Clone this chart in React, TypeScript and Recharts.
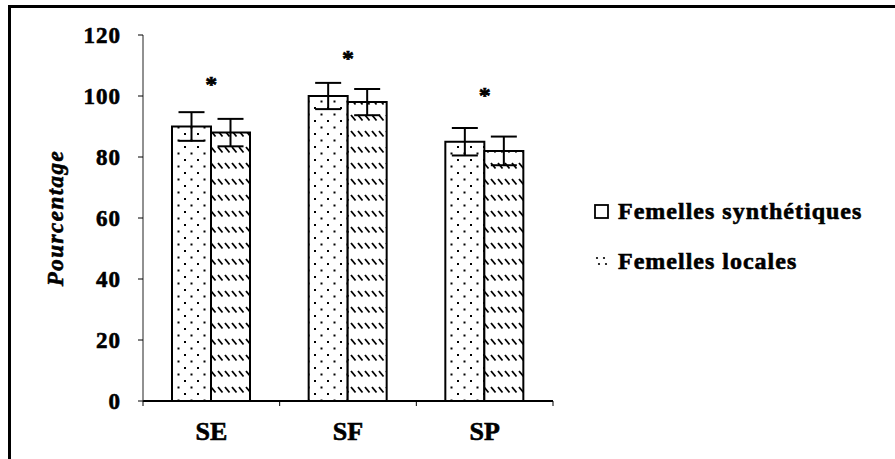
import React from 'react';
import {
  BarChart,
  Bar,
  XAxis,
  YAxis,
  ErrorBar,
  ReferenceDot,
} from 'recharts';

const categories = ['SE', 'SF', 'SP'];
const synthetiques = [90, 100, 85];
const locales = [88, 98, 82];
const synthErr = [4.7, 4.3, 4.5];
const localErr = [4.5, 4.3, 4.7];
const starLevel = [106, 114.5, 102.5];
const yTicks = [0, 20, 40, 60, 80, 100, 120];

const seriesNames = ['Femelles synthétiques', 'Femelles locales'];

const data = categories.map((c, i) => ({
  cat: c,
  synth: synthetiques[i],
  local: locales[i],
  synthErr: synthErr[i],
  localErr: localErr[i],
}));

const FONT = "'Liberation Serif', 'Times New Roman', serif";
// heavy, slightly smeared type like the scanned figure
const bold = { fontFamily: FONT, fontWeight: 'bold' as const, stroke: '#000', strokeWidth: 0.6 };

function XTick(props: any) {
  const { x, y, payload, index } = props;
  const half = payload.offset || 0;
  return (
    <g>
      {index === 0 && <line x1={x - half} x2={x - half} y1={y} y2={y + 5} stroke="#000" strokeWidth={1} />}
      <line x1={x + half} x2={x + half} y1={y} y2={y + 5} stroke="#000" strokeWidth={1} />
      <text x={x} y={y + 39} textAnchor="middle" style={{ ...bold, fontSize: 26 }} fill="#000">
        {payload.value}
      </text>
    </g>
  );
}

function YLabel(props: any) {
  const vb = props.viewBox;
  const cy = vb.y + vb.height / 2;
  return (
    <text
      transform={`translate(63, ${cy}) rotate(-90)`}
      textAnchor="middle"
      style={{ ...bold, fontStyle: 'italic', fontSize: 23, letterSpacing: 1.5 }}
      fill="#000"
    >
      Pourcentage
    </text>
  );
}

function LegendBox() {
  return (
    <svg width={300} height={90} style={{ position: 'absolute', left: 590, top: 195 }}>
      <rect x={5} y={10} width={13} height={13} fill="#fff" stroke="#000" strokeWidth={1.8} />
      <text x={28} y={24} style={{ ...bold, fontSize: 24, letterSpacing: 1 }} fill="#000">
        {seriesNames[0]}
      </text>
      <circle cx={7} cy={63} r={1.1} fill="#000" />
      <circle cx={14} cy={63} r={1.1} fill="#000" />
      <circle cx={9} cy={69} r={1.1} fill="#000" />
      <circle cx={16} cy={69} r={1.1} fill="#000" />
      <text x={28} y={74} style={{ ...bold, fontSize: 24, letterSpacing: 1 }} fill="#000">
        {seriesNames[1]}
      </text>
    </svg>
  );
}

export default function App() {
  return (
    <div style={{ position: 'absolute', left: 0, top: 0, width: 895, height: 459, background: '#fff' }}>
      <div
        style={{
          position: 'absolute',
          left: 8,
          top: 5,
          width: 887,
          height: 454,
          borderTop: '3px solid #000',
          borderLeft: '3px solid #000',
        }}
      />
      <div style={{ position: 'absolute', left: 0, top: 0 }}>
        <BarChart
          width={895}
          height={459}
          data={data}
          margin={{ top: 35, right: 342, bottom: 28, left: 83 }}
          barGap={0}
          barSize={39}
        >
          <defs>
            <pattern id="dots" width={13} height={13} patternUnits="userSpaceOnUse">
              <rect width={13} height={13} fill="#fff" />
              <rect x={2} y={3} width={2} height={2} fill="#000" />
              <rect x={8.5} y={9.5} width={2} height={2} fill="#000" />
            </pattern>
            <pattern id="hatch" width={7} height={16} patternUnits="userSpaceOnUse">
              <rect width={7} height={16} fill="#fff" />
              <line x1={1} y1={3} x2={5.5} y2={8.5} stroke="#000" strokeWidth={1.8} />
            </pattern>
          </defs>
          <XAxis
            dataKey="cat"
            height={30}
            tick={<XTick />}
            tickLine={false}
            tickSize={0}
            tickMargin={0}
            axisLine={{ stroke: '#000', strokeWidth: 2 }}
          />
          <YAxis
            width={60}
            domain={[0, 120]}
            ticks={yTicks}
            interval={0}
            tickSize={5}
            tickMargin={17}
            axisLine={{ stroke: '#222', strokeWidth: 1 }}
            tickLine={{ stroke: '#000' }}
            tick={{ ...bold, fontSize: 23, fill: '#000', letterSpacing: 1 }}
            label={<YLabel />}
          />
          <Bar dataKey="synth" name={seriesNames[0]} fill="url(#dots)" stroke="#000" strokeWidth={2} isAnimationActive={false}>
            <ErrorBar dataKey="synthErr" width={13} stroke="#000" strokeWidth={2} direction="y" isAnimationActive={false} />
          </Bar>
          <Bar dataKey="local" name={seriesNames[1]} fill="url(#hatch)" stroke="#000" strokeWidth={2} isAnimationActive={false}>
            <ErrorBar dataKey="localErr" width={13} stroke="#000" strokeWidth={2} direction="y" isAnimationActive={false} />
          </Bar>
          {categories.map((c, i) => (
            <ReferenceDot
              key={c}
              x={c}
              y={starLevel[i]}
              r={0}
              fill="none"
              stroke="none"
              label={{ value: '*', position: 'center', ...bold, fontSize: 24, fill: '#000', dy: 6 }}
            />
          ))}
        </BarChart>
      </div>
      <LegendBox />
    </div>
  );
}
